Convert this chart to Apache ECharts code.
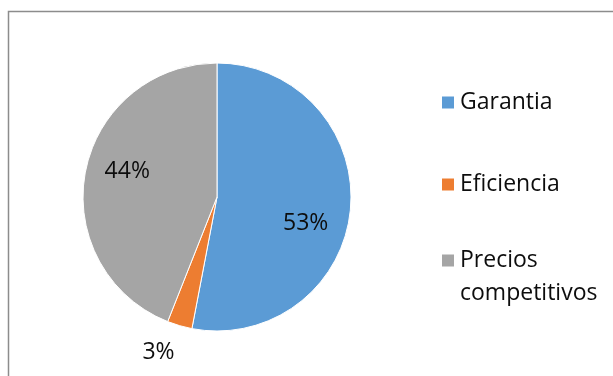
<!DOCTYPE html>
<html>
<head>
<meta charset="utf-8">
<script src="https://cdn.jsdelivr.net/npm/echarts@6/dist/echarts.min.js"></script>
<style>
  html, body { margin: 0; padding: 0; background: #fff; }
  #chart { width: 613px; height: 376px; }
</style>
</head>
<body>
<div id="chart"></div>
<script>
// Share of responses per purchase reason
const categories = ['Garantia', 'Eficiencia', 'Precios competitivos'];
// Leading blank line keeps the swatch beside the first line of the wrapped label
const legendLabels = ['Garantia', 'Eficiencia', '\nPrecios\ncompetitivos'];
const values = [53, 3, 44];
const colors = ['#5B9BD5', '#ED7D31', '#A5A5A5'];

// Nudges for the percentage labels relative to their default inside position
const labelShift = [[19, 20], [-39, 88], [-21, -12]];

const FONT = '"Open Sans", sans-serif';

const chart = echarts.init(document.getElementById('chart'), null, { renderer: 'canvas' });

const legendTops = [86, 168, 211];
const legends = categories.map((name, i) => ({
  orient: 'vertical',
  left: 440,
  top: legendTops[i],
  padding: 0,
  data: [name],
  icon: 'rect',
  itemWidth: 14,
  itemHeight: 14,
  selectedMode: false,
  formatter: () => legendLabels[i],
  textStyle: {
    fontFamily: FONT,
    fontSize: 23,
    lineHeight: 33,
    color: '#0d0d0d'
  }
}));

chart.setOption({
  animation: false,
  backgroundColor: '#ffffff',
  color: colors,
  graphic: [{
    type: 'rect',
    shape: { x: 8.5, y: 11.5, width: 700, height: 500 },
    style: { fill: 'none', stroke: '#8c8c8c', lineWidth: 1.5 },
    silent: true,
    z: -1
  }],
  legend: legends,
  series: [{
    type: 'pie',
    center: [217, 197],
    radius: [0, 134],
    startAngle: 90,
    clockwise: true,
    itemStyle: { borderColor: '#ffffff', borderWidth: 1 },
    label: {
      show: true,
      position: 'inside',
      formatter: '{c}%',
      fontFamily: FONT,
      fontSize: 23,
      color: '#0d0d0d'
    },
    labelLine: { show: false },
    labelLayout: (p) => ({ dx: labelShift[p.dataIndex][0], dy: labelShift[p.dataIndex][1] }),
    emphasis: { disabled: true },
    data: categories.map((name, i) => ({ name, value: values[i] }))
  }]
});
</script>
</body>
</html>
